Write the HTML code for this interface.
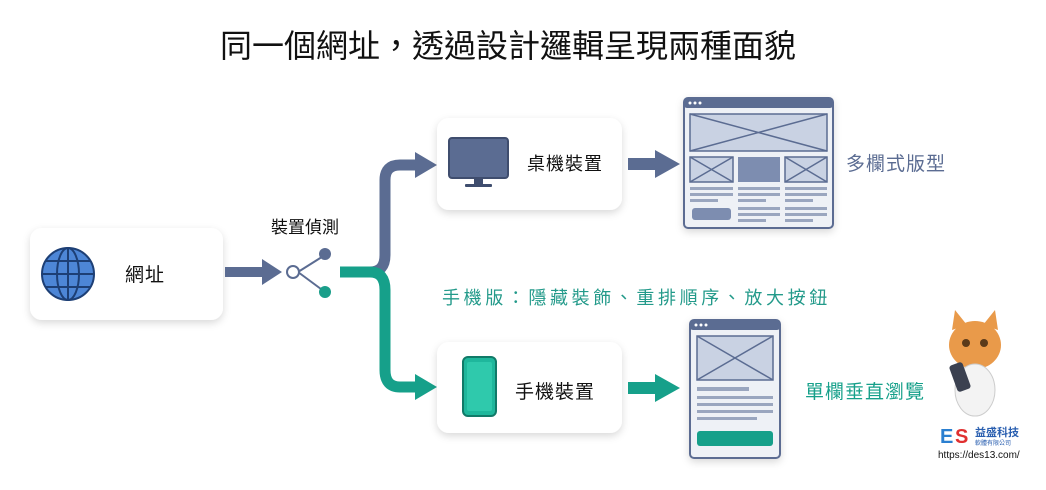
<!DOCTYPE html>
<html><head><meta charset="utf-8"><style>
body{margin:0;background:#fff;}
svg{display:block;font-family:"Liberation Sans","Noto Sans CJK TC",sans-serif;}
</style></head><body>
<svg width="1046" height="490" viewBox="0 0 1046 490">
<defs>
<filter id="sh" x="-20%" y="-20%" width="140%" height="150%"><feDropShadow dx="0" dy="3" stdDeviation="4" flood-color="#000" flood-opacity="0.15"/></filter>
</defs>
<rect width="1046" height="490" fill="#fff"/>
<text x="508" y="57" font-size="32" text-anchor="middle" fill="#111">同一個網址，透過設計邏輯呈現兩種面貌</text>

<!-- URL card -->
<rect x="30" y="228" width="193" height="92" rx="12" fill="#fff" filter="url(#sh)"/>
<circle cx="68" cy="274" r="26" fill="#4d86d6"/>
<g stroke="#1d3f75" stroke-width="2" fill="none">
<circle cx="68" cy="274" r="26"/><ellipse cx="68" cy="274" rx="11" ry="26"/><line x1="68" y1="248" x2="68" y2="300"/><line x1="42" y1="274" x2="94" y2="274"/><path d="M46 261 H90 M46 287 H90"/></g>
<text x="125" y="281" font-size="19" letter-spacing="1" fill="#111">網址</text>

<!-- arrow 1 -->
<path d="M225 267 H262 V259 L282 272 L262 285 V277 H225 Z" fill="#5b6c92"/>
<text x="305" y="233" font-size="17" text-anchor="middle" fill="#111">裝置偵測</text>
<g stroke="#5b6c92" stroke-width="2" fill="none"><path d="M298 272 L325 255 M298 272 L325 292"/></g>
<circle cx="293" cy="272" r="6" fill="#fff" stroke="#5b6c92" stroke-width="2"/>
<circle cx="325" cy="254" r="6" fill="#5b6c92"/>
<circle cx="325" cy="292" r="6" fill="#1a9e8a"/>

<!-- branches -->
<path d="M340 272 H370 Q385 272 385 255 V180 Q385 165 400 165 H418" stroke="#5b6c92" stroke-width="11" fill="none"/>
<path d="M415 152 L437 165 L415 178 Z" fill="#5b6c92"/>
<path d="M340 272 H370 Q385 272 385 290 V370 Q385 387 400 387 H418" stroke="#16a08a" stroke-width="11" fill="none"/>
<path d="M415 374 L437 387 L415 400 Z" fill="#16a08a"/>

<!-- desktop card -->
<rect x="437" y="118" width="185" height="92" rx="12" fill="#fff" filter="url(#sh)"/>
<rect x="449" y="138" width="59" height="40" rx="3" fill="#5b6c92" stroke="#3f4d6e" stroke-width="2"/>
<rect x="474" y="178" width="9" height="7" fill="#3f4d6e"/><rect x="465" y="184" width="27" height="3" rx="1" fill="#3f4d6e"/>
<text x="527" y="170" font-size="18" letter-spacing="1" fill="#111">桌機裝置</text>
<path d="M628 158 H655 V150 L680 164 L655 178 V170 H628 Z" fill="#5b6c92"/>

<!-- desktop wireframe -->
<g filter="url(#sh)"><rect x="684" y="98" width="149" height="130" rx="4" fill="#eef1f6" stroke="#5b6c92" stroke-width="2"/></g>
<rect x="684" y="98" width="149" height="10" rx="3" fill="#5b6c92"/>
<circle cx="690" cy="103" r="1.5" fill="#fff"/><circle cx="695" cy="103" r="1.5" fill="#fff"/><circle cx="700" cy="103" r="1.5" fill="#fff"/>
<g stroke="#5b6c92" stroke-width="1.5" fill="#c9d2e3">
<rect x="690" y="114" width="137" height="37"/><path d="M690 114 L827 151 M827 114 L690 151" fill="none"/>
<rect x="690" y="157" width="43" height="25"/><path d="M690 157 L733 182 M733 157 L690 182" fill="none"/>
<rect x="785" y="157" width="42" height="25"/><path d="M785 157 L827 182 M827 157 L785 182" fill="none"/>
</g>
<rect x="738" y="157" width="42" height="25" fill="#7d8db0"/>
<g fill="#9aa6bf">
<rect x="690" y="187" width="43" height="3"/><rect x="690" y="193" width="43" height="3"/><rect x="690" y="199" width="28" height="3"/>
<rect x="738" y="187" width="42" height="3"/><rect x="738" y="193" width="42" height="3"/><rect x="738" y="199" width="28" height="3"/>
<rect x="738" y="207" width="42" height="3"/><rect x="738" y="213" width="42" height="3"/><rect x="738" y="219" width="28" height="3"/>
<rect x="785" y="187" width="42" height="3"/><rect x="785" y="193" width="42" height="3"/><rect x="785" y="199" width="28" height="3"/>
<rect x="785" y="207" width="42" height="3"/><rect x="785" y="213" width="42" height="3"/><rect x="785" y="219" width="28" height="3"/>
</g>
<rect x="692" y="208" width="39" height="12" rx="3" fill="#7d8db0"/>
<text x="846" y="170" font-size="19" letter-spacing="1" fill="#5b6c92">多欄式版型</text>

<!-- mobile text -->
<text x="442" y="304" font-size="18" letter-spacing="3.6" fill="#239a8a">手機版：隱藏裝飾、重排順序、放大按鈕</text>

<!-- phone card -->
<rect x="437" y="342" width="185" height="91" rx="12" fill="#fff" filter="url(#sh)"/>
<rect x="463" y="357" width="33" height="59" rx="5" fill="#1fb79c" stroke="#117a68" stroke-width="2"/>
<rect x="467" y="362" width="25" height="49" rx="2" fill="#2fc9ac"/>
<text x="515" y="398" font-size="19" letter-spacing="1" fill="#111">手機裝置</text>
<path d="M628 382 H655 V374 L680 388 L655 402 V394 H628 Z" fill="#16a08a"/>

<!-- mobile wireframe -->
<g filter="url(#sh)"><rect x="690" y="320" width="90" height="138" rx="4" fill="#eef1f6" stroke="#5b6c92" stroke-width="2"/></g>
<rect x="690" y="320" width="90" height="10" rx="3" fill="#5b6c92"/>
<circle cx="696" cy="325" r="1.5" fill="#fff"/><circle cx="701" cy="325" r="1.5" fill="#fff"/><circle cx="706" cy="325" r="1.5" fill="#fff"/>
<g stroke="#5b6c92" stroke-width="1.5" fill="#c9d2e3"><rect x="697" y="336" width="76" height="44"/><path d="M697 336 L773 380 M773 336 L697 380" fill="none"/></g>
<g fill="#9aa6bf"><rect x="697" y="387" width="52" height="4"/><rect x="697" y="396" width="76" height="3"/><rect x="697" y="403" width="76" height="3"/><rect x="697" y="410" width="76" height="3"/><rect x="697" y="417" width="60" height="3"/></g>
<rect x="697" y="431" width="76" height="15" rx="3" fill="#16a08a"/>
<text x="805" y="398" font-size="19" letter-spacing="1" fill="#16a08a">單欄垂直瀏覽</text>

<!-- cat logo (simplified) -->
<ellipse cx="975" cy="345" rx="26" ry="24" fill="#e99a4a"/>
<path d="M952 330 L955 310 L967 325 Z M998 330 L995 310 L983 325 Z" fill="#e99a4a"/>
<ellipse cx="975" cy="390" rx="20" ry="26" fill="#f3f3f3" stroke="#ccc"/>
<rect x="953" y="363" width="14" height="28" rx="3" fill="#3b4150" transform="rotate(-20 960 377)"/>
<circle cx="966" cy="343" r="4" fill="#5a3a1a"/><circle cx="984" cy="343" r="4" fill="#5a3a1a"/>
<text x="940" y="443" font-size="20" font-weight="bold" fill="#2a7fd0">E</text><text x="955" y="443" font-size="20" font-weight="bold" fill="#e03030">S</text>
<text x="975" y="436" font-size="11" font-weight="bold" fill="#2a5fb0">益盛科技</text>
<text x="975" y="445" font-size="6" fill="#2a5fb0">軟體有限公司</text>
<text x="938" y="458" font-size="10" fill="#111">https://des13.com/</text>
</svg>
</body></html>
